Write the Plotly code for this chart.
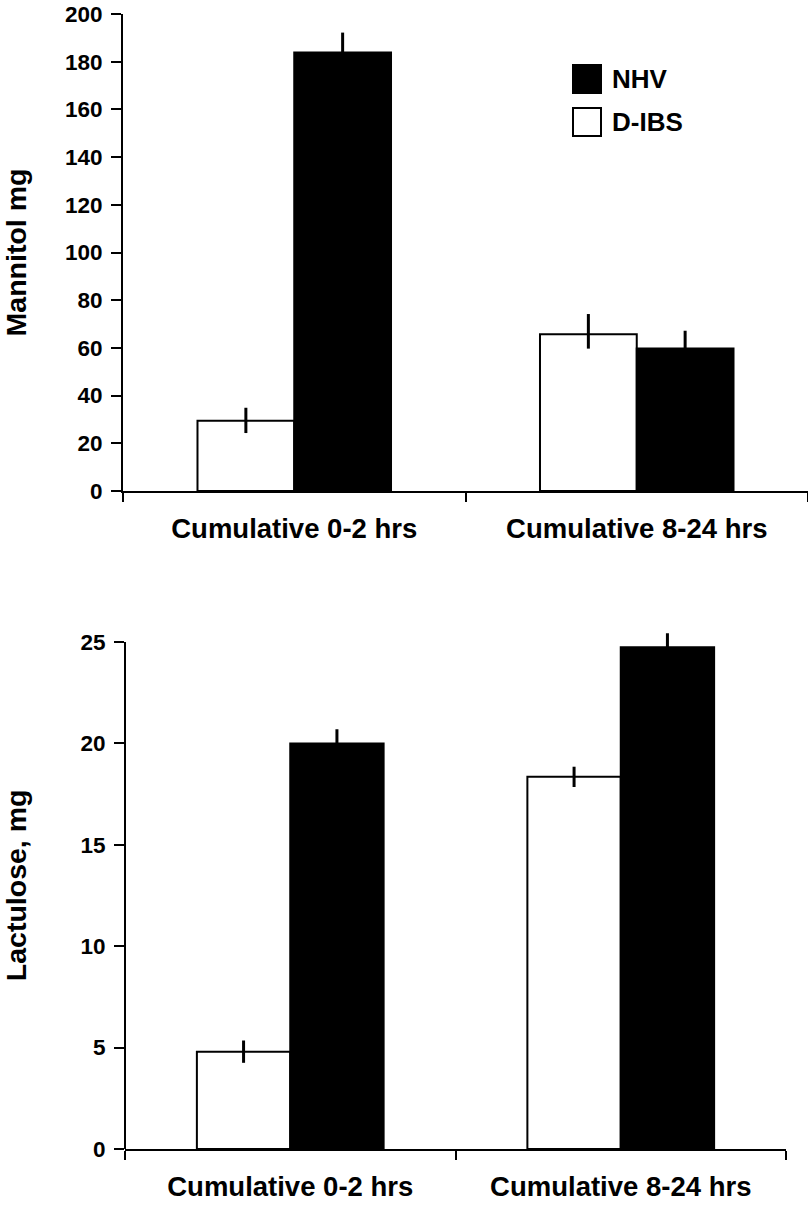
import plotly.graph_objects as go

categories = ["Cumulative 0-2 hrs", "Cumulative 8-24 hrs"]
series = ["D-IBS", "NHV"]

mannitol_dibs = [29.5, 65.7]
mannitol_dibs_err_plus = [5.4, 8.5]
mannitol_dibs_err_minus = [5.2, 6.0]
mannitol_nhv = [183.9, 59.7]
mannitol_nhv_err = [8.3, 7.5]

lactulose_dibs = [4.8, 18.35]
lactulose_dibs_err = [0.55, 0.5]
lactulose_nhv = [20.0, 24.74]
lactulose_nhv_err = [0.7, 0.69]

mannitol_ticks = [0, 20, 40, 60, 80, 100, 120, 140, 160, 180, 200]
lactulose_ticks = [0, 5, 10, 15, 20, 25]

W, H = 808, 1207
FONT = "Liberation Sans, Arial, sans-serif"

def px_x(p):
    return p / W

def px_y(p):
    return 1 - p / H

fig = go.Figure()

err_style = dict(type="data", thickness=3, width=0, color="black", visible=True)

fig.add_trace(go.Bar(
    x=categories, y=mannitol_dibs, name=series[0],
    marker=dict(color="white", line=dict(color="black", width=2)),
    error_y=dict(array=mannitol_dibs_err_plus, arrayminus=mannitol_dibs_err_minus, symmetric=False, **err_style),
    xaxis="x", yaxis="y", showlegend=False))
fig.add_trace(go.Bar(
    x=categories, y=mannitol_nhv, name=series[1],
    marker=dict(color="black", line=dict(color="black", width=2)),
    error_y=dict(array=mannitol_nhv_err, **err_style),
    xaxis="x", yaxis="y", showlegend=False))
fig.add_trace(go.Bar(
    x=categories, y=lactulose_dibs, name=series[0],
    marker=dict(color="white", line=dict(color="black", width=2)),
    error_y=dict(array=lactulose_dibs_err, **err_style),
    xaxis="x2", yaxis="y2", showlegend=False))
fig.add_trace(go.Bar(
    x=categories, y=lactulose_nhv, name=series[1],
    marker=dict(color="black", line=dict(color="black", width=2)),
    error_y=dict(array=lactulose_nhv_err, **err_style),
    xaxis="x2", yaxis="y2", showlegend=False))

tickfont = dict(family=FONT, size=22.5, color="black", weight="bold")
xfont = dict(family=FONT, size=27.5, color="black", weight="bold")
titlefont = dict(family=FONT, size=28.5, color="black", weight="bold")

common_x = dict(type="category", showline=True, linecolor="black", linewidth=2,
                ticks="outside", tickson="boundaries", ticklen=9, tickwidth=2,
                tickcolor="black", tickfont=xfont, showgrid=False, zeroline=False,
                automargin=False, ticklabelstandoff=12)
common_y = dict(linecolor="black", linewidth=2, ticks="outside",
                ticklen=10, tickwidth=2, tickcolor="black", tickfont=tickfont,
                showgrid=False, zeroline=False, ticklabelstandoff=4, automargin=False)

# lactulose panel: 25 at px 642, 0 at px 1149; extend range a little above 25
lac_top = 26
lac_px_per_unit = (1149 - 642) / 25
lac_top_px = 1149 - lac_top * lac_px_per_unit

fig.update_layout(
    width=W, height=H,
    margin=dict(l=0, r=0, t=0, b=0, autoexpand=False),
    paper_bgcolor="white", plot_bgcolor="white",
    barmode="group", bargap=0.435, bargroupgap=0,
    showlegend=False,
    xaxis=dict(domain=[px_x(123), 1.0], anchor="y", **common_x),
    yaxis=dict(domain=[px_y(491), px_y(14)], anchor="x", range=[0, 200],
               tickvals=mannitol_ticks, showline=True,
               title=dict(text="Mannitol mg", font=titlefont, standoff=32),
               **common_y),
    xaxis2=dict(domain=[px_x(125), px_x(786)], anchor="y2", **common_x),
    yaxis2=dict(domain=[px_y(1149), px_y(lac_top_px)], anchor="x2", range=[0, lac_top],
                tickvals=lactulose_ticks, showline=False,
                title=dict(text="Lactulose, mg", font=titlefont, standoff=48),
                **common_y),
)

# y-axis line of lactulose panel, from 0 to 25 only
fig.add_shape(type="line", xref="x2 domain", yref="y2", x0=0, x1=0,
              y0=lactulose_ticks[0], y1=lactulose_ticks[-1],
              line=dict(color="black", width=2), layer="above")

# Legend drawn in paper space
legend_items = [("NHV", "black", 65), ("D-IBS", "white", 108)]
for label, fill, top in legend_items:
    fig.add_shape(type="rect", xref="paper", yref="paper",
                  x0=px_x(573), x1=px_x(601), y0=px_y(top + 28), y1=px_y(top),
                  fillcolor=fill, line=dict(color="black", width=2))
    fig.add_annotation(x=px_x(610), y=px_y(top + 14), xref="paper", yref="paper",
                       text=label, showarrow=False, xanchor="left", yanchor="middle",
                       font=dict(family=FONT, size=26, color="black", weight="bold"))

fig.write_html("out.html", config={"displayModeBar": False},
               post_script="document.body.style.margin='0';")
